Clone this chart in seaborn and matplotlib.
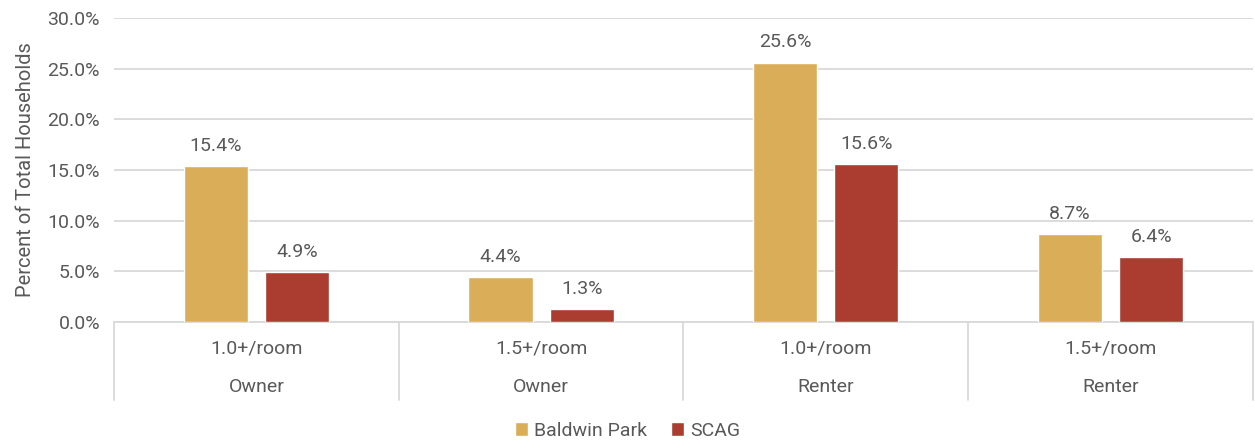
import pandas as pd
import matplotlib
matplotlib.use("Agg")
import matplotlib.pyplot as plt
import matplotlib.transforms as mtransforms
from matplotlib.ticker import PercentFormatter, MultipleLocator
from matplotlib.patches import Patch
import seaborn as sns

# data
tenure = ["Owner", "Owner", "Renter", "Renter"]
crowding = ["1.0+/room", "1.5+/room", "1.0+/room", "1.5+/room"]
baldwin_park = [15.4, 4.4, 25.6, 8.7]
scag = [4.9, 1.3, 15.6, 6.4]
series = ["Baldwin Park", "SCAG"]
colours = ["#DAAE59", "#AB3C30"]

groups = [f"{c}\n{t}" for c, t in zip(crowding, tenure)]
df = pd.DataFrame({
    "group": groups * 2,
    "value": baldwin_park + scag,
    "area": [series[0]] * 4 + [series[1]] * 4,
})

sns.set_style("white")
plt.rcParams["font.family"] = ["Roboto", "DejaVu Sans"]
text_col = "#595959"
grid_col = "#D9D9D9"

fig = plt.figure(figsize=(12.55, 4.43), dpi=100)
ax = fig.add_axes([0.0908, 0.2731, 0.9075, 0.6863])

sns.barplot(data=df, x="group", y="value", hue="area", palette=colours,
            saturation=1, width=0.57, gap=0.21, legend=False, ax=ax, zorder=3)

ax.set_ylim(0, 30)
ax.set_xlim(-0.5, 3.5)
ax.yaxis.set_major_locator(MultipleLocator(5))
ax.yaxis.set_major_formatter(PercentFormatter(decimals=1))
ax.grid(axis="y", color=grid_col, lw=1.3, zorder=0)
for s in ["top", "right", "left"]:
    ax.spines[s].set_visible(False)
ax.spines["bottom"].set_color(grid_col)
ax.spines["bottom"].set_linewidth(1.3)
ax.tick_params(axis="y", length=0, labelsize=14, colors=text_col, pad=10)
ax.set_xticks([])
ax.set_xlabel("")
ax.set_ylabel("Percent of Total Households", fontsize=14.5, color=text_col, labelpad=9)

# value labels
for cont in ax.containers:
    ax.bar_label(cont, fmt="%.1f%%", padding=8, fontsize=14, color=text_col)

# two-level category axis
trans = mtransforms.blended_transform_factory(ax.transData, ax.transAxes)
for i in range(len(groups) + 1):
    ax.plot([i - 0.5, i - 0.5], [0, -0.257], transform=trans, color=grid_col,
            lw=1.3, clip_on=False)
for i, (c, t) in enumerate(zip(crowding, tenure)):
    ax.text(i, -0.086, c, transform=trans, ha="center", va="center",
            fontsize=14, color=text_col)
    ax.text(i, -0.214, t, transform=trans, ha="center", va="center",
            fontsize=14, color=text_col)

handles = [Patch(facecolor=c, label=s) for c, s in zip(colours, series)]
fig.legend(handles=handles, loc="center", bbox_to_anchor=(0.5, 0.028), ncol=2,
           frameon=False, fontsize=14, handlelength=0.7, handleheight=0.7,
           handletextpad=0.3, columnspacing=1.2, labelcolor=text_col)

fig.savefig("out.png", dpi=100)
